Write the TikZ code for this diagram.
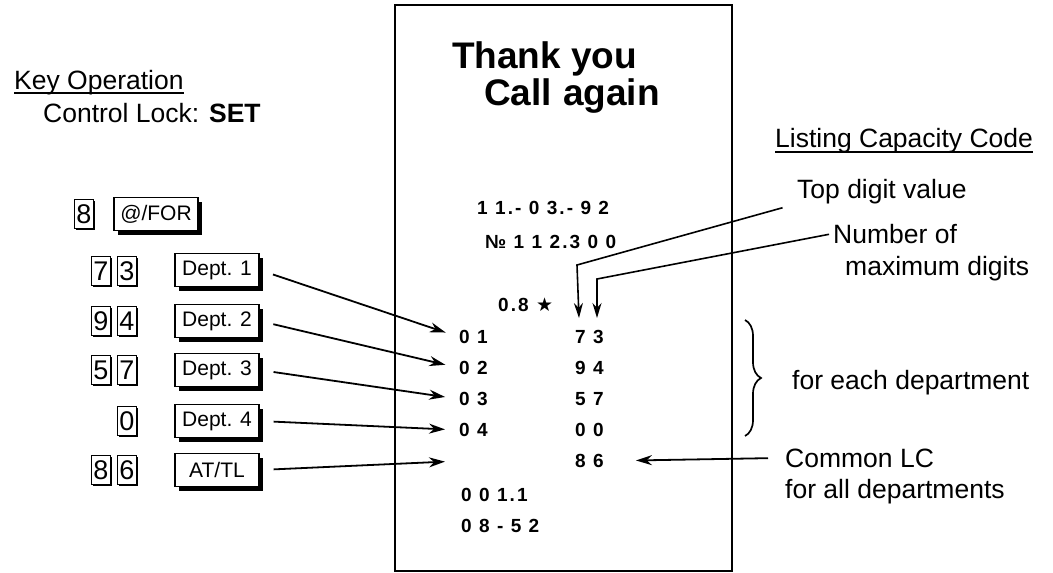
\documentclass[tikz,border=0pt]{standalone}
\usepackage{fontspec}
\setmainfont{Liberation Sans}
\newfontfamily\tapefont[LetterSpace=11]{Liberation Sans}
\newfontfamily\starfont{DejaVu Sans}
\usetikzlibrary{positioning, arrows.meta, decorations.pathreplacing}

\begin{document}
\begin{tikzpicture}[x=1pt, y=-1pt,
    every node/.style={inner sep=0pt},
    txt/.style={anchor=base west, font=\fontsize{26.5}{30}\selectfont},
    numkey/.style={draw, line width=1.5pt, fill=white, minimum width=19pt, minimum height=29pt,
      font=\fontsize{27}{27}\selectfont,
      preaction={fill=black, transform canvas={shift={(1.2pt,-1.2pt)}}}},
    funkey/.style={draw, line width=1.4pt, fill=white, minimum width=84pt, minimum height=33pt,
      font=\fontsize{21}{21}\selectfont,
      preaction={fill=black, transform canvas={shift={(4pt,-4.5pt)}}}},
    tape/.style={anchor=west, font=\tapefont\bfseries\fontsize{19}{19}\selectfont},
    keyarrow/.style={-{Stealth[length=16pt, width=10pt]}, line width=1.8pt, shorten <=14pt, shorten >=14pt},
    leader/.style={-{Stealth[length=15pt, width=9pt]}, line width=1.6pt},
  ]
  \useasboundingbox (0,0) rectangle (1053,573);

  % Receipt
  \draw[line width=1.7pt] (395,5) rectangle (732,571);
  \node[anchor=base west, font=\bfseries\fontsize{37}{37}\selectfont] (thanks) at (452,68) {Thank you};
  \node[anchor=base west, font=\bfseries\fontsize{37}{37}\selectfont] (again) at (484,105) {Call\hspace{11pt}again};

  % Printed lines
  \node[tape] (date) at (477,208) {1 1.- 0 3.- 9 2};
  \node[tape] (serial) at (485,242) {№ 1 1 2.3 0 0};
  \node[tape] (mode) at (498,305) {0.8 {\starfont\mdseries ★}};
  \node[tape] (r01) at (459,337) {0 1};
  \node[tape] (r02) at (459,368) {0 2};
  \node[tape] (r03) at (459,399) {0 3};
  \node[tape] (r04) at (459,430) {0 4};
  \coordinate (r05) at (459,461);
  \node[tape] (c73) at (575,337) {7 3};
  \node[tape] (c94) at (575,368) {9 4};
  \node[tape] (c57) at (575,399) {5 7};
  \node[tape] (c00) at (575,430) {0 0};
  \node[tape] (c86) at (575,461) {8 6};
  \node[tape] (cnt) at (461,495) {0 0 1.1};
  \node[tape] (clock) at (461,526) {0 8 - 5 2};

  % Key operation
  \node[txt] (kop) at (14,89) {Key Operation};
  \draw[line width=1.3pt] ([yshift=-4pt]kop.base west) -- ([yshift=-4pt]kop.base east);
  \node[txt] (lock) at (43,122) {Control Lock: \textbf{SET}};

  % Keys
  \node[numkey] (k8a) at (84,214) {8};
  \node[funkey] (kfor) at (156,214) {@/FOR};
  \node[numkey] (k7a) at (101,271) {7};
  \node[numkey] (k3a) at (127,271) {3};
  \node[funkey] (kd1) at (217,270) {Dept. 1};
  \node[numkey] (k9a) at (101,321) {9};
  \node[numkey] (k4a) at (127,321) {4};
  \node[funkey] (kd2) at (217,321) {Dept. 2};
  \node[numkey] (k5a) at (101,370) {5};
  \node[numkey] (k7b) at (127,370) {7};
  \node[funkey] (kd3) at (217,370) {Dept. 3};
  \node[numkey] (k0a) at (127,421) {0};
  \node[funkey] (kd4) at (217,421) {Dept. 4};
  \node[numkey] (k8b) at (101,470) {8};
  \node[numkey] (k6a) at (127,470) {6};
  \node[funkey] (katl) at (217,470) {AT/TL};

  % Key to receipt arrows
  \draw[keyarrow] (kd1.east) -- (r01.west);
  \draw[keyarrow] (kd2.east) -- (r02.west);
  \draw[keyarrow] (kd3.east) -- (r03.west);
  \draw[keyarrow] (kd4.east) -- (r04.west);
  \draw[keyarrow] (katl.east) -- (r05);

  % Listing capacity code
  \node[txt] (lcc) at (775,147) {Listing Capacity Code};
  \draw[line width=1.3pt] ([yshift=-5pt]lcc.base west) -- ([yshift=-5pt]lcc.base east);
  \node[txt] (ltop) at (797,198) {Top digit value};
  \node[txt] (lnum) at (833,243) {Number of};
  \node[txt] (lmax) at (845,275) {maximum digits};
  \coordinate (bendtop) at (577,265);
  \coordinate (tiptop) at (579,318);
  \coordinate (bendnum) at (597,279);
  \coordinate (tipnum) at (597,318);
  \draw[leader, shorten <=15pt] (ltop.south west) -- (bendtop) -- (tiptop);
  \draw[leader, shorten <=4pt] (lnum.west) -- (bendnum) -- (tipnum);

  % Brace for departments
  \coordinate (brtop) at (745,320);
  \coordinate (brbot) at (745,436);
  \draw[line width=1.7pt, decorate, decoration={brace, amplitude=16pt}] (brtop) -- (brbot);
  \node[txt] (leach) at (792,389) {for each department};

  % Common listing capacity
  \node[txt] (lcom) at (785,467) {Common LC};
  \node[txt] (lall) at (785,498) {for all departments};
  \draw[keyarrow, shorten <=17pt, shorten >=32pt] (lcom.west) -- (c86.east);
\end{tikzpicture}
\end{document}
